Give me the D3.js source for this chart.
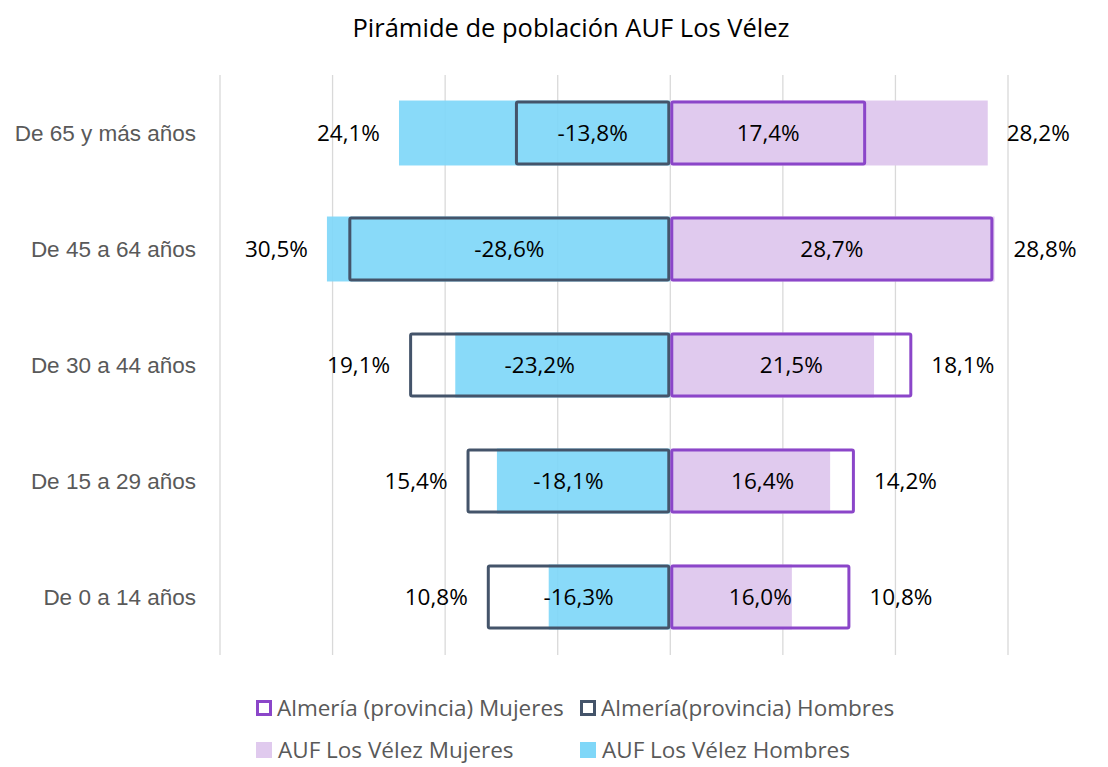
<!DOCTYPE html>
<html><head><meta charset="utf-8">
<script src="https://cdn.jsdelivr.net/npm/d3@7"></script>
<style>body{margin:0;background:#fff}svg{display:block;font-family:"Open Sans","Noto Sans",sans-serif}</style>
</head><body><svg id="c" width="1108" height="767"></svg>
<script>
const categories = ["De 65 y más años","De 45 a 64 años","De 30 a 44 años","De 15 a 29 años","De 0 a 14 años"];
const almeriaMujeres = [17.4, 28.7, 21.5, 16.4, 16.0];
const almeriaHombres = [-13.8, -28.6, -23.2, -18.1, -16.3];
const aufMujeres = [28.2, 28.8, 18.1, 14.2, 10.8];
const aufHombres = [-24.1, -30.5, -19.1, -15.4, -10.8];
const xTicks = [-40,-30,-20,-10,0,10,20,30];
const title = "Pirámide de población AUF Los Vélez";
const legendNames = ["Almería (provincia) Mujeres","Almería(provincia) Hombres","AUF Los Vélez Mujeres","AUF Los Vélez Hombres"];

const C = {almM:"#8B46C9", almH:"#44546A", aufM:"#E0CAEE", aufH:"#7FD7F8", grid:"#D9D9D9", axis:"#595959"};
const FS = 22.5;
const svg = d3.select("#c");
const x = d3.scaleLinear().domain([-40,30]).range([220,1008]);
const y = d3.scaleBand().domain(categories).range([75,655]).paddingInner(0.44).paddingOuter(0.22);
const fmt = v => d3.format(".1f")(v).replace(".",",").replace("−","-") + "%";

svg.append("text").attr("x",571).attr("y",37).attr("text-anchor","middle")
  .attr("font-size",25.5).attr("fill","#000").text(title);

svg.append("g").selectAll("line").data(xTicks).join("line")
  .attr("x1",d=>x(d)).attr("x2",d=>x(d)).attr("y1",75).attr("y2",655)
  .attr("stroke",C.grid).attr("stroke-width",1.3);

const rows = categories.map((c,i)=>({c, am:almeriaMujeres[i], ah:almeriaHombres[i], um:aufMujeres[i], uh:aufHombres[i]}));
const g = svg.append("g");
g.selectAll(".uh").data(rows).join("rect")
  .attr("x",d=>x(d.uh)).attr("width",d=>x(0)-x(d.uh)).attr("y",d=>y(d.c)).attr("height",y.bandwidth())
  .attr("fill",C.aufH).attr("fill-opacity",0.92);
g.selectAll(".um").data(rows).join("rect")
  .attr("x",x(0)).attr("width",d=>x(d.um)-x(0)).attr("y",d=>y(d.c)).attr("height",y.bandwidth())
  .attr("fill",C.aufM);
const sw=3;
g.selectAll(".ah").data(rows).join("rect")
  .attr("x",d=>x(d.ah)+sw/2).attr("width",d=>x(0)-x(d.ah)-sw).attr("y",d=>y(d.c)+sw/2).attr("height",y.bandwidth()-sw)
  .attr("fill","none").attr("stroke",C.almH).attr("stroke-width",sw).attr("rx",1.5);
g.selectAll(".am").data(rows).join("rect")
  .attr("x",x(0)+sw/2).attr("width",d=>x(d.am)-x(0)-sw).attr("y",d=>y(d.c)+sw/2).attr("height",y.bandwidth()-sw)
  .attr("fill","none").attr("stroke",C.almM).attr("stroke-width",sw).attr("rx",1.5);

const lbl = svg.append("g").attr("font-size",FS).attr("fill","#000");
const cy = d=>y(d.c)+y.bandwidth()/2;
lbl.selectAll(".lah").data(rows).join("text").attr("x",d=>(x(d.ah)+x(0))/2).attr("y",cy)
  .attr("dy","0.36em").attr("text-anchor","middle").text(d=>fmt(d.ah));
lbl.selectAll(".lam").data(rows).join("text").attr("x",d=>(x(d.am)+x(0))/2).attr("y",cy)
  .attr("dy","0.36em").attr("text-anchor","middle").text(d=>fmt(d.am));
lbl.selectAll(".luh").data(rows).join("text").attr("x",d=>Math.min(x(d.ah),x(d.uh))-19).attr("y",cy)
  .attr("dy","0.36em").attr("text-anchor","end").text(d=>fmt(-d.uh));
lbl.selectAll(".lum").data(rows).join("text").attr("x",d=>Math.max(x(d.am),x(d.um))+19).attr("y",cy)
  .attr("dy","0.36em").attr("text-anchor","start").text(d=>fmt(d.um));

const yAxis = svg.append("g").attr("transform","translate(196,0)")
  .call(d3.axisLeft(y).tickSize(0).tickPadding(0));
yAxis.select(".domain").remove();
yAxis.selectAll("text").attr("font-size",FS).attr("fill",C.axis).attr("font-family","inherit").attr("dy","0.36em");

const leg = [
  {n:legendNames[0], x:256, y:708, type:"outline", c:C.almM},
  {n:legendNames[1], x:580, y:708, type:"outline", c:C.almH},
  {n:legendNames[2], x:256, y:750, type:"fill", c:C.aufM},
  {n:legendNames[3], x:580, y:750, type:"fill", c:C.aufH}
];
const lg = svg.append("g").selectAll("g").data(leg).join("g").attr("transform",d=>`translate(${d.x},${d.y})`);
lg.append("rect").attr("x",d=>d.type==="outline"?1.5:0).attr("y",d=>d.type==="outline"?-6.5:-8)
  .attr("width",d=>d.type==="outline"?13:16).attr("height",d=>d.type==="outline"?13:16)
  .attr("fill",d=>d.type==="outline"?"none":d.c).attr("stroke",d=>d.type==="outline"?d.c:"none").attr("stroke-width",3);
lg.append("text").attr("x",d=>d.type==="outline"?21:22).attr("y",0).attr("dy","0.36em")
  .attr("font-size",FS).attr("fill",C.axis).text(d=>d.n);
</script></body></html>
